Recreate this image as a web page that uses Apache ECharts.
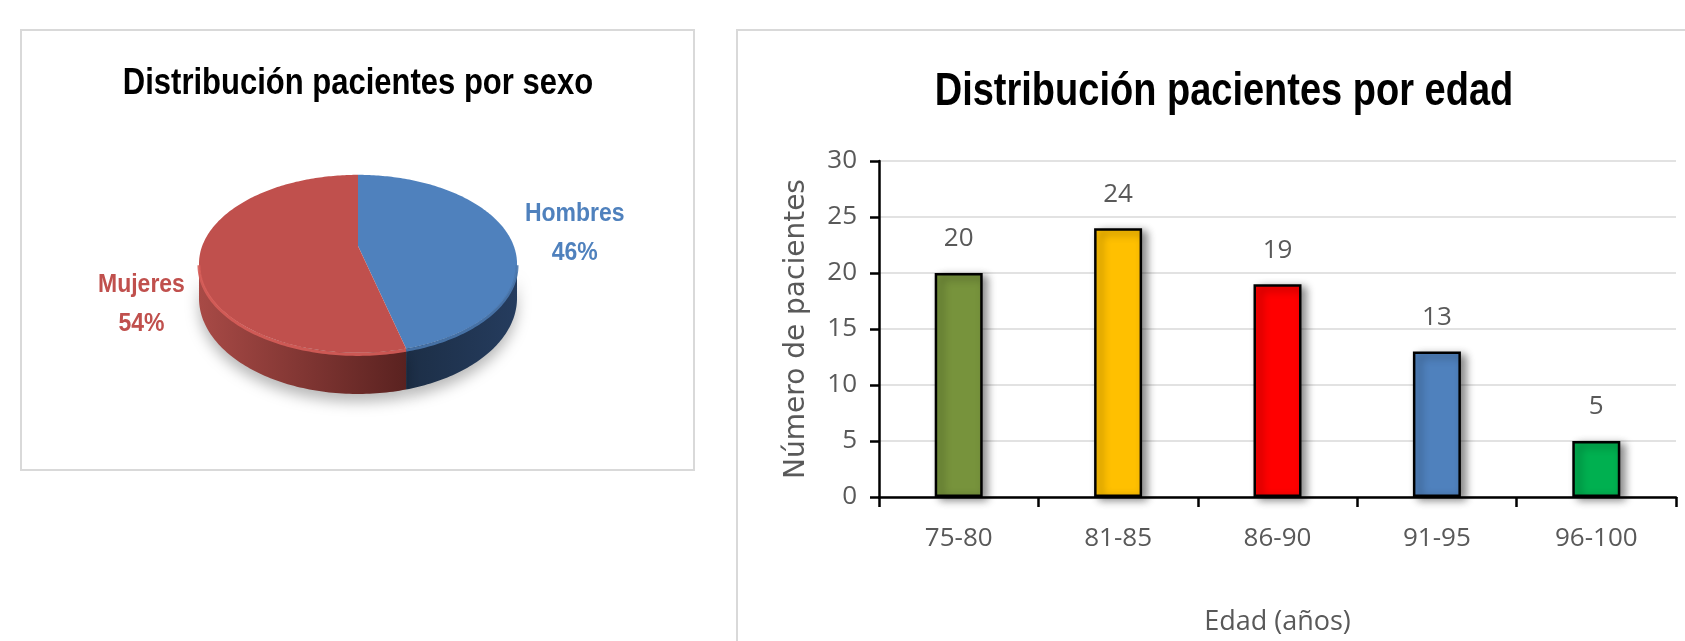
<!DOCTYPE html>
<html><head><meta charset="utf-8">
<script src="https://cdn.jsdelivr.net/npm/echarts@6/dist/echarts.min.js"></script>
<style>html,body{margin:0;padding:0;background:#fff}#c{width:1685px;height:641px}</style>
</head><body><div id="c"></div>
<script>
// ---- data ----
const ageCategories = ['75-80', '81-85', '86-90', '91-95', '96-100'];
const ageValues = [20, 24, 19, 13, 5];
const ageColors = ['#77933C', '#FFC000', '#FF0000', '#4F81BD', '#00B050'];
const sexNames = ['Hombres', 'Mujeres'];
const sexValues = [46, 54];
const sexColors = ['#4F81BD', '#C0504D'];
const sexSideColors = [['#1C2E46', '#253C5E'], ['#A84A46', '#5A2220']];
const sexRimColors = ['#4A78AE', '#D65D59'];

// ---- layout ----
// simple perspective view of a tilted disc: apex = projected centre
const PIE = { cx: 358, cy: 246, rx: 155.8, ry: 85.4, k: 0.2, depth: 33 };
const TITLE_FONT = '"Liberation Sans", Arial, sans-serif';
const LABEL_FONT = '"Open Sans", sans-serif';

function renderPie(params, api) {
  const i = params.dataIndex;
  const v = api.value(0);
  const total = sexValues.reduce((a, b) => a + b, 0);
  let start = 0;
  for (let k = 0; k < i; k++) start += sexValues[k];
  const a0 = start / total * 2 * Math.PI, a1 = (start + v) / total * 2 * Math.PI;
  const P = (a, dz) => {
    const u = Math.sin(a), c = Math.cos(a), d = 1 + PIE.k * c;
    return [PIE.cx + PIE.rx * u / d, PIE.cy - PIE.ry * c / d + PIE.depth * dz / d];
  };
  const arc = (s, e, dz) => {
    const n = Math.max(2, Math.ceil((e - s) / (Math.PI / 180)));
    const pts = [];
    for (let j = 0; j <= n; j++) pts.push(P(s + (e - s) * j / n, dz));
    return pts;
  };
  const children = [];
  const sil = Math.asin(PIE.k);
  const s0 = Math.max(a0, Math.PI / 2 + sil), s1 = Math.min(a1, 3 * Math.PI / 2 - sil);
  if (s1 > s0) {
    const top = arc(s0, s1, 0), bot = arc(s0, s1, 1).reverse();
    children.push({
      type: 'polygon', z2: 1,
      shape: { points: top.concat(bot) },
      style: {
        fill: { type: 'linear', x: 0, y: 0, x2: 1, y2: 0, colorStops: [
          { offset: 0, color: sexSideColors[i][0] }, { offset: 1, color: sexSideColors[i][1] }] },
        shadowBlur: 14, shadowColor: 'rgba(0,0,0,0.28)', shadowOffsetY: 8
      }
    });
    children.push({
      type: 'polyline', z2: 3,
      shape: { points: arc(s0, s1, 0.04) },
      style: { stroke: sexRimColors[i], lineWidth: 3, fill: null, opacity: 0.9 }
    });
  }
  const apex = [PIE.cx, PIE.cy];
  children.push({
    type: 'polygon', z2: 2,
    shape: { points: [apex].concat(arc(a0, a1, 0)) },
    style: { fill: sexColors[i] }
  });
  const mid = (a0 + a1) / 2;
  const pm = P(mid, 0);
  const right = Math.sin(mid) > 0;
  children.push({
    type: 'text', z2: 5,
    x: pm[0] + (right ? 66 : -58),
    y: pm[1] + (right ? -2 : 47),
    scaleY: 1.15,
    style: {
      text: sexNames[i] + '\n' + Math.round(v / total * 100) + '%',
      fill: sexColors[i], font: 'bold 23px ' + TITLE_FONT,
      align: 'center', verticalAlign: 'middle', lineHeight: 34
    }
  });
  return { type: 'group', children };
}

const chart = echarts.init(document.getElementById('c'), null, { renderer: 'canvas' });
chart.setOption({
  animation: false,
  backgroundColor: '#ffffff',
  graphic: [
    { type: 'rect', z: -10, silent: true, shape: { x: 21, y: 30, width: 673, height: 440 },
      style: { fill: '#fff', stroke: '#D9D9D9', lineWidth: 2 } },
    { type: 'rect', z: -10, silent: true, shape: { x: 737, y: 30, width: 1000, height: 700 },
      style: { fill: '#fff', stroke: '#D9D9D9', lineWidth: 2 } },
    { type: 'text', z: 10, x: 358, y: 84, scaleY: 1.2,
      style: { text: 'Distribución pacientes por sexo', font: 'bold 31px ' + TITLE_FONT, fill: '#000',
        align: 'center', verticalAlign: 'middle' } },
    { type: 'text', z: 10, x: 1224, y: 92, scaleY: 1.2,
      style: { text: 'Distribución pacientes por edad', font: 'bold 38px ' + TITLE_FONT, fill: '#000',
        align: 'center', verticalAlign: 'middle' } }
  ],
  grid: { left: 879, right: 9, top: 161, bottom: 144, containLabel: false },
  xAxis: {
    type: 'category', data: ageCategories,
    axisLine: { lineStyle: { color: '#000', width: 2.5 } },
    axisTick: { show: true, length: 10, lineStyle: { color: '#000', width: 2.5 } },
    axisLabel: { color: '#595959', fontFamily: LABEL_FONT, fontSize: 26, margin: 29 },
    name: 'Edad (años)', nameLocation: 'middle', nameGap: 112,
    nameTextStyle: { color: '#595959', fontFamily: LABEL_FONT, fontSize: 27 }
  },
  yAxis: {
    type: 'value', min: 0, max: 30, interval: 5,
    axisLine: { show: true, lineStyle: { color: '#000', width: 2.5 } },
    axisTick: { show: true, length: 9, lineStyle: { color: '#000', width: 2.5 } },
    axisLabel: { color: '#595959', fontFamily: LABEL_FONT, fontSize: 26, margin: 22 },
    splitLine: { show: true, lineStyle: { color: '#D9D9D9', width: 1.5 } },
    name: 'Número de pacientes', nameLocation: 'middle', nameGap: 68, nameRotate: 90,
    nameTextStyle: { color: '#595959', fontFamily: '"DejaVu Sans", sans-serif', fontSize: 28 }
  },
  series: [
    {
      type: 'bar', barWidth: 48,
      data: ageValues.map((v, i) => ({ value: v, itemStyle: { color: ageColors[i] } })),
      itemStyle: { borderColor: '#000', borderWidth: 2.5,
        shadowBlur: 8, shadowColor: 'rgba(0,0,0,0.45)', shadowOffsetX: 5, shadowOffsetY: 3 },
      label: { show: true, position: 'top', distance: 21, color: '#595959',
        fontFamily: LABEL_FONT, fontSize: 26 }
    },
    {
      type: 'custom', coordinateSystem: 'none',
      data: sexValues.map((v, i) => ({ name: sexNames[i], value: [v, i] })),
      renderItem: renderPie
    }
  ]
});
</script>
</body></html>
